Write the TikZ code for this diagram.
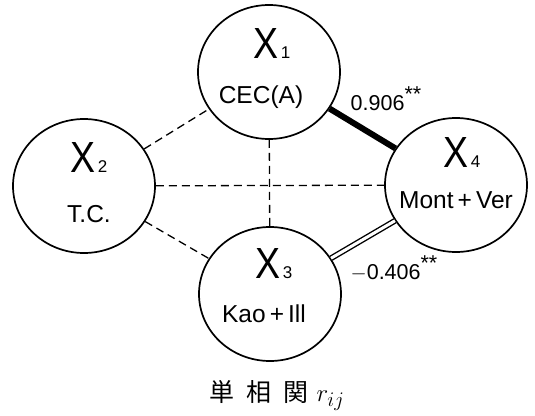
\documentclass[tikz,border=0pt]{standalone}
\usepackage{fontspec}
\setmainfont{Liberation Sans}
\newfontfamily\cjk{Noto Sans CJK JP}
\usetikzlibrary{shapes.geometric}
% variable name: a tall X with a small index on the baseline
\newcommand{\varname}[1]{\resizebox{25pt}{30pt}{X}\hspace{2pt}{\fontsize{17}{17}\selectfont #1}}
\begin{document}
\begin{tikzpicture}[x=1pt,y=-1pt,
  var/.style={ellipse, draw, line width=1.7pt, minimum width=142pt, minimum height=134pt, inner sep=0pt},
  vname/.style={anchor=base, inner sep=0pt},
  vdesc/.style={anchor=base, inner sep=0pt, font=\fontsize{24.5}{24.5}\selectfont},
  weak/.style={dash pattern=on 8pt off 5pt, line width=1.3pt},
  strong/.style={line width=6pt},
  neg/.style={double, double distance=3pt, line width=1.4pt},
  coef/.style={anchor=base, inner sep=0pt, font=\fontsize{21.5}{21.5}\selectfont}
]
\useasboundingbox (0,0) rectangle (535,415);

% the four variables
\node[var] (X1) at (269,72) {};
\node[var] (X2) at (84,186) {};
\node[var] (X3) at (270,294) {};
\node[var] (X4) at (456,185) {};

\node[vname] (n1) at (272,58) {\varname{1}};
\node[vdesc] (d1) at (261,103) {CEC(A)};
\node[vname] (n2) at (89,172) {\varname{2}};
\node[vdesc] (d2) at (89,222) {T.C.};
\node[vname] (n3) at (274,278) {\varname{3}};
\node[vdesc] (d3) at (264,322) {Kao\,+\,{\rmfamily I}ll};
\node[vname] (n4) at (462,167) {\varname{4}};
\node[vdesc] (d4) at (456,208) {Mont\,+\,Ver};

% correlations
\draw[weak] (X2) -- (X1);
\draw[weak] (X2) -- (X3);
\draw[weak] (X2) -- (X4);
\draw[weak] (X1) -- (X3);
\draw[strong] (X1) -- (X4);
\draw[neg] (X3) -- (X4);

\node[coef] (c14) at (386,110) {0.906\raisebox{9pt}{**}};
\node[coef] (c34) at (394,279) {$-$0.406\raisebox{9pt}{**}};

% caption
\node[anchor=base, inner sep=0pt] (cap) at (277,401)
  {{\cjk\fontsize{25}{25}\selectfont 単\hspace{12pt}相\hspace{12pt}関}\hspace{8pt}{\fontsize{32}{32}\selectfont $r_{ij}$}};
\end{tikzpicture}
\end{document}
